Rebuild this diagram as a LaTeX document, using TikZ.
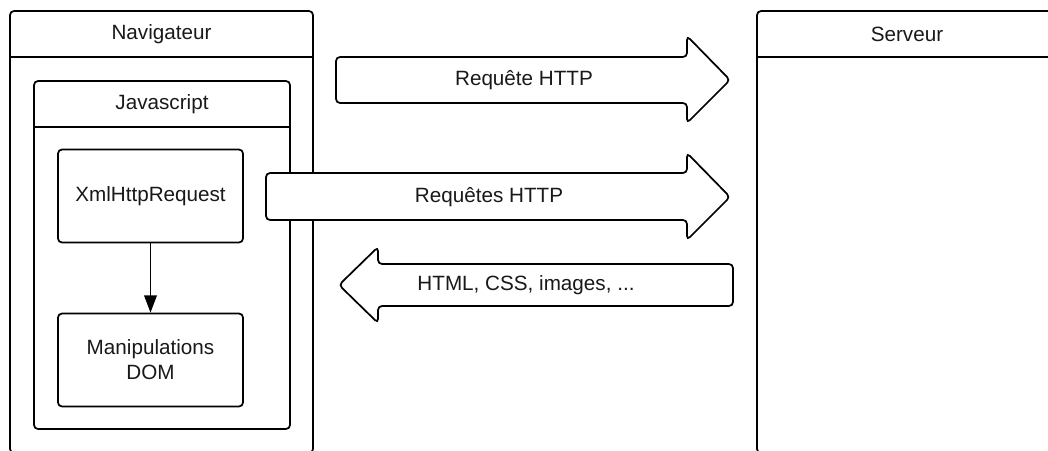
\documentclass[tikz,border=0pt]{standalone}
\usepackage{fontspec}
\setmainfont{Liberation Sans}
\usetikzlibrary{arrows.meta}
\begin{document}
\begin{tikzpicture}[x=0.75pt,y=-0.75pt]
    \tikzstyle{frame}=[draw=black, line width=1.3pt, rounded corners=3pt]
    \tikzstyle{fat}=[draw=black, fill=white, line width=1.3pt, rounded corners=3pt]
    \tikzstyle{label}=[text=black!90, font=\fontsize{15.5}{18.75}\selectfont, align=center]
    \tikzstyle{block}=[rectangle, draw=black, fill=white, line width=1.3pt, rounded corners=3pt,
                       minimum width=138.75pt, minimum height=69.75pt, label]
    \clip (0,0) rectangle (1048,450);

    % conteneurs
    \draw[frame] (10,11)  rectangle (313,453);
    \draw[frame] (34,81)  rectangle (290,429);
    \draw[frame] (757,11) rectangle (1057,453);
    \draw[line width=1.3pt] (10,57)  -- (313,57)
                            (34,127) -- (290,127)
                            (757,57) -- (1057,57);

    \node[label] (nav)  at (161.5,34)  {Navigateur};
    \node[label] (js)   at (162,104)   {Javascript};
    \node[label] (serv) at (907,34)    {Serveur};

    % grosses fleches
    \draw[fat] (336,57) -- (687,57) -- (687,36) -- (730,80)
               -- (687,123) -- (687,103) -- (336,103) -- cycle;
    \draw[fat] (266,173) -- (687,173) -- (687,153) -- (730,197)
               -- (687,240) -- (687,220) -- (266,220) -- cycle;
    \draw[fat] (733,264) -- (378,264) -- (378,247) -- (339,285)
               -- (378,323) -- (378,306) -- (733,306) -- cycle;

    \node[label] (req)  at (524,80)  {Requête HTTP};
    \node[label] (reqs) at (489,197) {Requêtes HTTP};
    \node[label] (resp) at (526,285) {HTML, CSS, images, ...};

    % blocs javascript
    \node[block] (xhr) at (150.5,196) {XmlHttpRequest};
    \node[block] (dom) at (150.5,360) {Manipulations\\DOM};

    \draw[line width=1.3pt, -{Triangle[length=13pt,width=9.5pt]}] (xhr) -- (dom);
\end{tikzpicture}
\end{document}
